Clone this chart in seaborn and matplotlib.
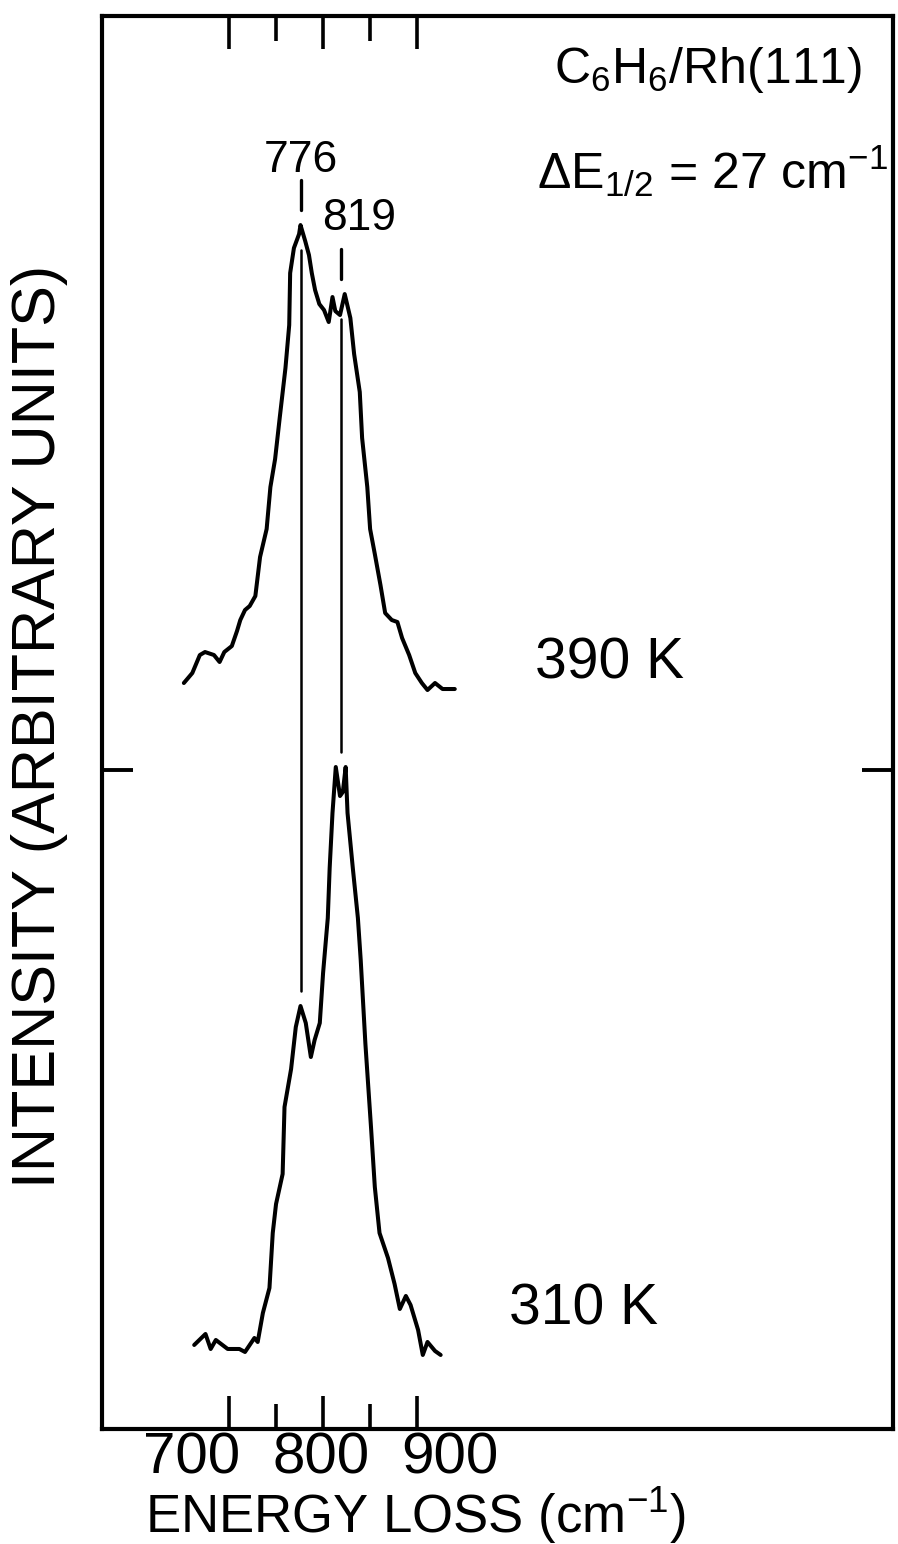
import numpy as np
import pandas as pd
import matplotlib
matplotlib.use("Agg")
import matplotlib.pyplot as plt
import matplotlib.transforms as mtransforms
import seaborn as sns

# ---------------- data ----------------
# 390 K spectrum: energy loss (cm^-1) and intensity above its own baseline (arb. units)
energy_390 = [652, 661, 669, 674.5, 684, 690, 695, 703, 708.5, 712,
              717, 722, 728, 733, 740, 744, 749, 754, 760, 764,
              765, 769, 774.5, 776, 781, 785, 788, 791.5, 796, 801,
              806, 810, 813, 818, 823, 829, 833, 839, 841.5, 847,
              850, 855, 861, 866, 873, 879, 884, 891.5, 898, 905,
              911, 919, 927, 940]
intensity_390 = [0.06, 0.16, 0.34, 0.37, 0.34, 0.27, 0.37, 0.43, 0.58, 0.69,
                 0.79, 0.83, 0.93, 1.32, 1.60, 2.02, 2.30, 2.72, 3.21, 3.64,
                 4.16, 4.41, 4.55, 4.64, 4.48, 4.34, 4.16, 3.99, 3.85, 3.79,
                 3.67, 3.92, 3.78, 3.74, 3.95, 3.71, 3.35, 2.97, 2.51, 2.02,
                 1.60, 1.35, 1.04, 0.76, 0.69, 0.67, 0.51, 0.34, 0.16, 0.06,
                 -0.01, 0.06, 0.00, 0.00]

# 310 K spectrum
energy_310 = [663, 675, 680.5, 686, 698.6, 711, 717, 727, 730.5, 736,
              743, 746.5, 750, 757, 759, 766, 771, 776, 781.6, 787,
              791, 796.5, 800, 805, 807, 810, 813.5, 818, 821, 824,
              826, 831.6, 837, 840, 845, 851, 855, 860, 869, 876,
              881.6, 888, 893, 901, 906, 911, 919, 925]
intensity_310 = [0.04, 0.15, 0.00, 0.09, 0.00, 0.00, -0.03, 0.11, 0.07, 0.36,
                 0.61, 1.16, 1.45, 1.75, 2.42, 2.80, 3.22, 3.43, 3.26, 2.92,
                 3.09, 3.26, 3.76, 4.31, 4.81, 5.36, 5.82, 5.53, 5.57, 5.82,
                 5.36, 4.81, 4.31, 3.89, 3.05, 2.21, 1.62, 1.16, 0.91, 0.65,
                 0.40, 0.53, 0.44, 0.19, -0.06, 0.07, -0.02, -0.06]

# vertical stacking offsets of the two traces (arb. units)
offset_390 = 7.40
offset_310 = 0.80
split_tick = [6.59]

temperatures = ["390 K", "310 K"]
peak_positions = [776, 819]
peak_labels = ["776", "819"]

major_ticks = [700, 800, 900]
minor_ticks = [750, 850]
tick_labels = ["700", "800", "900"]

title_text = "C$_6$H$_6$/Rh(111)"
resolution_text = "ΔE$_{1/2}$ = 27 cm$^{-1}$"
xlabel_text = "ENERGY LOSS (cm$^{-1}$)"
ylabel_text = "INTENSITY (ARBITRARY UNITS)"

# ---------------- style ----------------
sns.set_style("white")
plt.rcParams["font.family"] = ["Liberation Sans", "DejaVu Sans"]
plt.rcParams["mathtext.fontset"] = "custom"
plt.rcParams["mathtext.rm"] = "Liberation Sans"
plt.rcParams["mathtext.it"] = "Liberation Sans"
plt.rcParams["mathtext.bf"] = "Liberation Sans"
plt.rcParams["text.color"] = "black"
plt.rcParams["axes.labelcolor"] = "black"
plt.rcParams["xtick.color"] = "black"
plt.rcParams["ytick.color"] = "black"

fig = plt.figure(figsize=(8.98, 15.44), dpi=100)
fig.patch.set_facecolor("white")
ax = fig.add_axes([0.1136, 0.0745, 0.881, 0.9151])

top_y = np.array(intensity_390) + offset_390
bot_y = np.array(intensity_310) + offset_310

df = pd.concat([
    pd.DataFrame({"energy": energy_390, "intensity": top_y, "T": temperatures[0]}),
    pd.DataFrame({"energy": energy_310, "intensity": bot_y, "T": temperatures[1]}),
])
for t in temperatures:
    sns.lineplot(data=df[df["T"] == t], x="energy", y="intensity", ax=ax,
                 color="black", lw=2.9, sort=False, estimator=None)

ax.set_xlim(565, 1406)
ax.set_ylim(0, 14.13)

# peak markers
e390 = np.array(energy_390)
e310 = np.array(energy_310)
label_dx = [0, 19]
label_dy = [0.65, 0.76]
for p, lab, dx, dy in zip(peak_positions, peak_labels, label_dx, label_dy):
    tmax = top_y[np.abs(e390 - p) <= 5].max()
    bmax = bot_y[np.abs(e310 - p) <= 5].max()
    ax.plot([p, p], [tmax + 0.15, tmax + 0.45], color="black", lw=2.4,
            solid_capstyle="round")
    ax.plot([p, p], [tmax - 0.25, bmax + 0.15], color="black", lw=1.8)
    ax.text(p + dx, tmax + dy, lab, ha="center", va="center", fontsize=32)

# temperature labels
ax.text(1105, 7.66, temperatures[0], ha="center", va="center", fontsize=41)
ax.text(1077, 1.19, temperatures[1], ha="center", va="center", fontsize=41)

# annotations
ax.text(0.766, 0.962, title_text, transform=ax.transAxes, ha="center",
        va="center", fontsize=36)
ax.text(0.772, 0.890, resolution_text, transform=ax.transAxes, ha="center",
        va="center", fontsize=36)

# axes styling
for s in ax.spines.values():
    s.set_visible(True)
    s.set_linewidth(3)
    s.set_color("black")

ax.set_xticks(major_ticks)
ax.set_xticks(minor_ticks, minor=True)
ax.tick_params(axis="x", which="major", direction="in", length=24, width=2.6,
               top=True, bottom=True, labelbottom=False, labeltop=False,
               color="black")
ax.tick_params(axis="x", which="minor", direction="in", length=18, width=2.6,
               top=True, bottom=True, color="black")
ax.set_yticks(split_tick)
ax.tick_params(axis="y", direction="in", length=22, width=2.8, left=True,
               right=True, labelleft=False, labelright=False, color="black")

# tick labels (hand-placed like the original lettering)
trans = mtransforms.blended_transform_factory(ax.transData, ax.transAxes)
label_pos = [660, 798, 935]
for lab, pos in zip(tick_labels, label_pos):
    ax.text(pos, -0.0212, lab, transform=trans, ha="center", va="center",
            fontsize=42)

ax.set_xlabel(xlabel_text, fontsize=38, va="baseline")
ax.xaxis.set_label_coords(0.396, -0.0735)
ax.set_ylabel(ylabel_text, fontsize=44, va="center")
ax.yaxis.set_label_coords(-0.0784, 0.497)

fig.savefig("out.png", dpi=100, facecolor="white")
